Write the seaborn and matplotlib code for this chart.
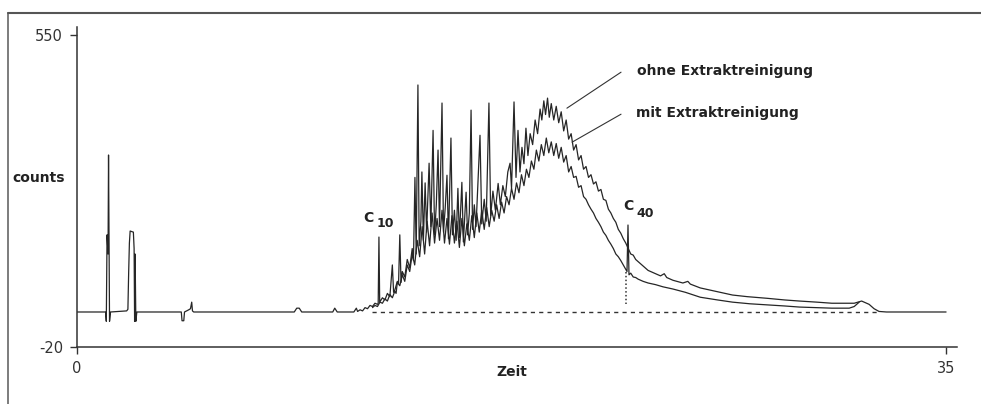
import matplotlib
matplotlib.use('Agg')
import matplotlib.pyplot as plt
import seaborn as sns
from matplotlib.lines import Line2D

sns.set_style('ticks')
plt.rcParams['font.family'] = ['DejaVu Sans']
plt.rcParams['axes.unicode_minus'] = False

# Chromatogramm ohne Extraktreinigung (Zeit / counts)
ohne_zeit = [
    0.0, 1.15, 1.18, 1.21, 1.25, 1.27, 1.29, 1.31, 1.35, 2.0,
    2.05, 2.08, 2.11, 2.14, 2.27, 2.3, 2.32, 2.34, 2.37, 2.41,
    4.2, 4.23, 4.3, 4.33, 4.5, 4.57, 4.62, 4.65, 4.7, 8.75,
    8.85, 8.95, 9.05, 10.3, 10.38, 10.48, 11.15, 11.25, 11.3, 11.4,
    11.5, 11.6, 11.7, 11.8, 11.9, 12.0, 12.1, 12.13, 12.16, 12.19,
    12.3, 12.4, 12.5, 12.6, 12.7, 12.75, 12.8, 12.9, 12.95, 13.0,
    13.05, 13.1, 13.2, 13.3, 13.4, 13.5, 13.55, 13.61, 13.66, 13.73,
    13.78, 13.85, 13.89, 13.95, 14.02, 14.08, 14.18, 14.25, 14.34, 14.4,
    14.47, 14.54, 14.6, 14.7, 14.76, 14.83, 14.9, 14.96, 15.06, 15.12,
    15.2, 15.27, 15.34, 15.4, 15.5, 15.56, 15.67, 15.73, 15.8, 15.87,
    15.93, 16.0, 16.07, 16.15, 16.23, 16.3, 16.4, 16.48, 16.59, 16.66,
    16.75, 16.85, 16.96, 17.05, 17.15, 17.25, 17.35, 17.44, 17.5, 17.6,
    17.68, 17.76, 17.84, 17.92, 18.0, 18.08, 18.16, 18.25, 18.35, 18.45,
    18.55, 18.65, 18.72, 18.8, 18.87, 18.95, 19.02, 19.1, 19.2, 19.3,
    19.4, 19.5, 19.6, 19.7, 19.8, 19.9, 20.0, 20.1, 20.2, 20.3,
    20.4, 20.5, 20.6, 20.7, 20.8, 20.9, 21.0, 21.1, 21.2, 21.3,
    21.4, 21.5, 21.6, 21.7, 21.8, 21.9, 22.0, 22.1, 22.2, 22.3,
    22.4, 22.5, 22.6, 22.7, 22.8, 23.0, 23.2, 23.5, 23.65, 23.75,
    24.0, 24.4, 24.6, 24.7, 25.1, 25.5, 26.0, 26.4, 27.0, 27.8,
    28.5, 29.1, 29.8, 30.4, 31.0, 31.3, 31.6, 31.9, 32.1, 32.3,
    32.6, 35.0,
]
ohne_counts = [
    44, 44, 27, 185, 150, 331, 185, 27, 44, 46,
    49, 115, 170, 192, 190, 160, 27, 150, 27, 44,
    44, 28, 28, 44, 48, 50, 62, 46, 44, 44,
    51, 51, 44, 44, 51, 44, 44, 51, 45, 48,
    46, 52, 50, 56, 54, 60, 58, 60, 181, 62,
    70, 66, 78, 72, 130, 80, 84, 100, 96, 185,
    98, 118, 108, 140, 125, 160, 138, 290, 150, 459,
    165, 210, 300, 175, 280, 190, 316, 200, 376, 185,
    240, 340, 200, 426, 190, 235, 294, 178, 362, 185,
    230, 175, 270, 180, 281, 172, 263, 185, 225, 413,
    195, 240, 200, 285, 367, 205, 250, 210, 426, 220,
    265, 230, 279, 240, 275, 255, 300, 316, 270, 428,
    290, 376, 300, 345, 315, 380, 330, 370, 350, 395,
    370, 415, 395, 430, 405, 435, 400, 425, 395, 420,
    390, 410, 375, 395, 360, 370, 340, 350, 322, 330,
    305, 310, 290, 295, 278, 282, 265, 268, 250, 248,
    232, 225, 215, 208, 195, 188, 178, 170, 160, 150,
    148, 140, 136, 132, 128, 120, 116, 110, 114, 107,
    102, 97, 100, 95, 88, 84, 79, 75, 72, 69,
    66, 64, 62, 60, 60, 60, 64, 58, 50, 45,
    44, 44,
]

# Chromatogramm mit Extraktreinigung
mit_zeit = [
    11.9, 12.0, 12.1, 12.2, 12.3, 12.4, 12.5, 12.6, 12.7, 12.8,
    12.85, 12.9, 13.0, 13.1, 13.2, 13.3, 13.4, 13.5, 13.6, 13.7,
    13.8, 13.9, 14.0, 14.1, 14.2, 14.3, 14.4, 14.5, 14.6, 14.7,
    14.8, 14.9, 15.0, 15.1, 15.2, 15.3, 15.4, 15.5, 15.6, 15.7,
    15.8, 15.9, 16.0, 16.1, 16.2, 16.3, 16.4, 16.5, 16.6, 16.7,
    16.8, 16.9, 17.0, 17.1, 17.2, 17.3, 17.4, 17.5, 17.6, 17.7,
    17.8, 17.9, 18.0, 18.1, 18.2, 18.3, 18.4, 18.5, 18.6, 18.7,
    18.8, 18.9, 19.0, 19.1, 19.2, 19.3, 19.4, 19.5, 19.6, 19.7,
    19.8, 19.9, 20.0, 20.1, 20.2, 20.3, 20.4, 20.5, 20.6, 20.7,
    20.8, 20.9, 21.0, 21.1, 21.2, 21.3, 21.4, 21.5, 21.6, 21.7,
    21.8, 21.9, 22.0, 22.1, 22.15, 22.19, 22.23, 22.3, 22.4, 22.5,
    22.6, 22.8, 23.0, 23.3, 23.6, 24.0, 24.5, 25.1, 25.8, 26.4,
    27.1, 27.8, 28.5, 29.1, 29.8, 30.4, 31.1, 31.3, 31.5,
]
mit_counts = [
    52, 56, 54, 62, 60, 68, 64, 76, 70, 82,
    78, 98, 92, 112, 100, 130, 118, 150, 130, 175,
    145, 200, 150, 210, 165, 225, 170, 215, 175, 230,
    170, 215, 168, 220, 170, 210, 162, 215, 165, 205,
    175, 220, 180, 225, 190, 230, 195, 235, 200, 230,
    210, 240, 215, 245, 225, 255, 240, 270, 250, 280,
    262, 295, 275, 305, 290, 320, 305, 340, 320, 350,
    330, 362, 335, 355, 330, 352, 325, 345, 318, 330,
    300, 310, 290, 292, 272, 275, 255, 250, 240, 232,
    225, 215, 208, 200, 190, 184, 175, 168, 160, 150,
    145, 138, 130, 122, 118, 203, 112, 115, 108, 107,
    104, 100, 97, 94, 90, 86, 80, 71, 66, 62,
    59, 57, 55, 53, 52, 51, 51, 54, 62,
]

# Basislinie unter dem Hügel und Markierung bei C40
basis_zeit = [11.9, 32.2]
basis_counts = [44, 44]
c40_zeit = [22.1, 22.1]
c40_counts = [118, 58]

fig = plt.figure(figsize=(9.81, 4.04), dpi=100)
ax = fig.add_axes([77 / 981, 1 - 347 / 404, 880 / 981, 320 / 404])

linie = '#262626'
sns.lineplot(x=ohne_zeit, y=ohne_counts, ax=ax, color=linie, lw=0.9,
             estimator=None, sort=False)
sns.lineplot(x=mit_zeit, y=mit_counts, ax=ax, color=linie, lw=0.9,
             estimator=None, sort=False)
ax.plot(basis_zeit, basis_counts, ls=(0, (3, 3)), color='#333333', lw=1.0)
ax.plot(c40_zeit, c40_counts, ls=(0, (1, 1.5)), color='#333333', lw=1.1)

# Beschriftungen mit Hinweislinien
ax.plot([19.73, 21.91], [416.6, 482.4], color='#333333', lw=0.8)
ax.plot([19.94, 21.91], [354.5, 405.6], color='#333333', lw=0.8)
ax.text(22.55, 477, 'ohne Extraktreinigung', fontsize=10, fontweight='bold',
        color='#222222', va='baseline', ha='left')
ax.text(22.51, 400, 'mit Extraktreinigung', fontsize=10, fontweight='bold',
        color='#222222', va='baseline', ha='left')
ax.text(11.52, 208, 'C', fontsize=10, fontweight='bold', color='#222222', va='baseline')
ax.text(12.08, 199, '10', fontsize=9, fontweight='bold', color='#222222', va='baseline')
ax.text(21.99, 230, 'C', fontsize=10, fontweight='bold', color='#222222', va='baseline')
ax.text(22.55, 217.5, '40', fontsize=9, fontweight='bold', color='#222222', va='baseline')

ax.set_xlim(0, 35.44)
ax.set_ylim(-20, 565)
ax.set_xticks([0, 35])
ax.set_yticks([-20, 550])
ax.set_xlabel('')
ax.set_ylabel('')
sns.despine(ax=ax)
for s in ['left', 'bottom']:
    ax.spines[s].set_color('#333333')
    ax.spines[s].set_linewidth(1.1)
ax.tick_params(direction='out', length=5, width=1, color='#333333',
               labelsize=10.5, labelcolor='#333333', pad=5)

fig.text(12 / 981, 1 - 178 / 404, 'counts', fontsize=10, fontweight='bold',
         color='#222222', va='center', ha='left')
fig.text(512 / 981, 1 - 372 / 404, 'Zeit', fontsize=10, fontweight='bold',
         color='#222222', va='center', ha='center')

# Rahmen des gescannten Bildes (links und oben)
fig.add_artist(Line2D([8 / 981, 8 / 981], [0, 1 - 13 / 404],
                      transform=fig.transFigure, color='#666666', lw=1.2))
fig.add_artist(Line2D([8 / 981, 1], [1 - 13 / 404, 1 - 13 / 404],
                      transform=fig.transFigure, color='#555555', lw=1.5))

fig.savefig('out.png', dpi=100)
